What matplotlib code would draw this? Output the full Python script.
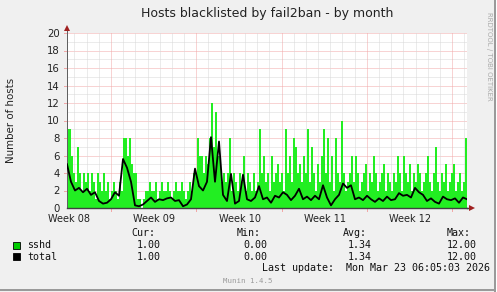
import numpy as np
import matplotlib
matplotlib.use("Agg")
import matplotlib.pyplot as plt
from matplotlib.patches import Rectangle

# ---------------- data ----------------
title = "Hosts blacklisted by fail2ban - by month"
ylabel = "Number of hosts"
week_labels = ["Week 08", "Week 09", "Week 10", "Week 11", "Week 12"]
y_ticks = [0, 2, 4, 6, 8, 10, 12, 14, 16, 18, 20]

# sshd (green area), one value per ~4 hours across the month window
sshd = [9, 9, 6, 4, 3, 7, 4, 2, 4, 3,
        4, 2, 4, 3, 1, 4, 3, 2, 4, 2,
        3, 1, 2, 3, 2, 1, 3, 2,
        8, 8, 6, 8, 5, 4,
        4, 1, 1, 0, 1, 2,
        2, 3, 2, 2, 3, 1, 2, 3, 2, 2,
        3, 2, 1, 2, 3, 2, 2, 3, 2, 1,
        2, 3, 2, 4, 4, 8, 6,
        6, 4, 6, 5, 8, 12, 7, 11, 6, 6,
        3, 4, 3, 4, 8, 2, 4, 3, 2, 4,
        3, 6, 2, 4, 3, 2, 4, 2, 3, 9,
        4, 6, 3, 4, 2, 6, 3, 4, 5, 3,
        4, 2, 9, 4, 6, 3, 8, 7, 4, 5,
        3, 6, 4, 9, 3, 7, 4, 2, 5, 3,
        6, 9, 4, 8, 3, 6, 2, 8, 4, 3,
        10, 4, 2, 3, 4, 6, 3, 6, 4, 2,
        3, 4, 5, 2, 4, 3, 6, 4, 2, 3,
        4, 5, 2, 4, 3, 2, 4, 3, 6, 4,
        2, 6, 4, 3, 5, 2, 4, 3, 5, 4,
        2, 3, 4, 6, 3, 2, 4, 7, 3, 2,
        4, 3, 5, 2, 3, 4, 5, 2, 3, 4, 2, 3, 8]

# total (black line), one value per ~8 hours
total = [5.0, 3.0, 2.0, 2.3, 1.8, 2.2, 1.5, 1.8, 0.8, 0.5,
         0.6, 1.0, 1.8, 1.4, 5.6, 4.6, 3.0, 0.3, 0.2, 0.4,
         0.8, 1.2, 0.7, 1.0, 0.9, 1.1, 1.2, 0.8, 0.9, 0.2,
         0.4, 1.0, 4.5, 2.5, 2.0, 3.0, 8.1, 3.0, 7.6, 1.5,
         0.8, 3.9, 0.5, 0.8, 3.8, 1.0, 0.8, 1.2, 2.5, 1.0,
         1.2, 0.6, 1.4, 1.2, 1.8, 1.5, 0.9, 1.4, 2.2, 1.0,
         1.3, 0.9, 1.4, 1.0, 2.6, 1.2, 0.3, 1.0, 1.5, 2.8,
         2.3, 2.6, 1.0, 1.2, 0.9, 1.4, 1.0, 0.7, 1.1, 0.8,
         1.3, 0.9, 1.0, 1.7, 1.4, 1.5, 1.2, 2.3, 1.8, 1.5,
         0.8, 1.1, 0.7, 0.5, 1.3, 1.0, 0.9, 1.1, 0.6, 1.2, 1.0]

legend_names = ["sshd", "total"]
stat_headers = ["Cur:", "Min:", "Avg:", "Max:"]
stats_sshd = ["1.00", "0.00", "1.34", "12.00"]
stats_total = ["1.00", "0.00", "1.34", "12.00"]
last_update = "Last update:  Mon Mar 23 06:05:03 2026"
footer = "Munin 1.4.5"
side_text = "RRDTOOL / TOBI OETIKER"

# ---------------- layout ----------------
W, H = 497, 292
PX_PER_DAY = 12.18
SPAN = 400 / PX_PER_DAY            # days shown on x axis
LABEL0 = 2 / PX_PER_DAY            # first week label position (days)
MAJOR0 = 44 / PX_PER_DAY           # first major grid line (days)

GREEN = "#22EE22"
LEG_GREEN = "#00CC00"
BG = "#F0F0F0"

fig = plt.figure(figsize=(W / 100, H / 100), dpi=100, facecolor=BG)

def fx(x):
    return x / W

def fy(y):
    return 1 - y / H

ax = fig.add_axes([fx(67), 1 - 208 / H, 400 / W, 175 / H])
ax.set_facecolor("white")
ax.set_xlim(0, SPAN)
ax.set_ylim(0, 20)

# grid
px = 0.72
for v in range(1, 20):
    if v % 2 == 1:
        ax.axhline(v, color="#D8D8D8", lw=px, ls=(0, (1, 1)), zorder=1)
for v in range(2, 21, 2):
    ax.axhline(v, color="#F2A8A8", lw=px, ls=(0, (1, 1)), zorder=1)
    ax.plot([-3 / PX_PER_DAY, 0], [v, v], color="#F2A8A8", lw=px, clip_on=False, zorder=1)
d = MAJOR0 - 3
while d < SPAN:
    k = round(d - MAJOR0)
    if d > 0:
        if k % 7 == 0:
            ax.axvline(d, color="#F2A8A8", lw=px, ls=(0, (1, 1)), zorder=1)
            ax.plot([d, d], [0, -0.35], color="#F2A8A8", lw=px, clip_on=False, zorder=1)
        else:
            ax.axvline(d, color="#D8D8D8", lw=px, ls=(0, (1, 1)), zorder=1)
    d += 1

# series
edges = np.linspace(0, SPAN, len(sshd) + 1)
ax.stairs(sshd, edges, fill=True, color=GREEN, zorder=2, lw=0)
t_total = np.linspace(0, SPAN, len(total))
ax.plot(t_total, total, color="black", lw=1.3, zorder=3)

# axes
for s in ["top", "right"]:
    ax.spines[s].set_visible(False)
ax.spines["left"].set_color("#606060")
ax.spines["bottom"].set_color("#404040")
ax.spines["left"].set_linewidth(px)
ax.spines["bottom"].set_linewidth(1.0)
ax.plot([SPAN, SPAN + 4 / PX_PER_DAY], [0, 0], color="#404040", lw=1.0, clip_on=False, zorder=4)
ax.plot([0, 0], [20, 20.5], color="#606060", lw=px, clip_on=False, zorder=4)
ax.plot([SPAN + 5 / PX_PER_DAY], [0], marker=">", ms=4, color="#A02020", mew=0, clip_on=False, zorder=5)
ax.plot([0], [20.6], marker="^", ms=4, color="#A02020", mew=0, clip_on=False, zorder=5)

ax.set_yticks(y_ticks)
ax.set_yticklabels([str(v) for v in y_ticks], fontsize=7.3, color="#222222")
ax.tick_params(axis="y", length=0, pad=5)
ax.set_xticks([LABEL0 + 7 * k for k in range(len(week_labels))])
ax.set_xticklabels(week_labels, fontsize=7, color="#222222")
ax.tick_params(axis="x", length=0, pad=4.5)

# texts
fig.text(fx(267), fy(14), title, ha="center", va="center", fontsize=9, color="#222222")
fig.text(fx(11), fy(120), ylabel, ha="center", va="center", rotation=90, fontsize=7.4, color="#222222")
fig.text(fx(489), fy(56), side_text, ha="center", va="center", rotation=270, fontsize=5, color="#AAAAAA")

mono = dict(family="DejaVu Sans Mono", fontsize=7.2, color="#111111", va="center", ha="left")
hdr_x = [131, 237, 343, 447]
val_x = [137, 243, 348, 447]
for hx, h in zip(hdr_x, stat_headers):
    fig.text(fx(hx), fy(233), h, **mono)
for row_y, name, vals, col in [(245, legend_names[0], stats_sshd, LEG_GREEN),
                               (256.5, legend_names[1], stats_total, "black")]:
    fig.patches.append(Rectangle((fx(13), fy(row_y + 3.5)), 7 / W, 7 / H,
                                 transform=fig.transFigure, facecolor=col,
                                 edgecolor="black", lw=0.6))
    fig.text(fx(27), fy(row_y), name, **mono)
    for vx, v in zip(val_x, vals):
        fig.text(fx(vx), fy(row_y), v, **mono)
fig.text(fx(262), fy(268), last_update, **mono)
fig.text(fx(248), fy(281), footer, ha="center", va="center",
         family="DejaVu Sans Mono", fontsize=5.3, color="#9A9A9A")

# image border
fig.patches.append(Rectangle((fx(494), 0), 2 / W, 1, transform=fig.transFigure,
                             facecolor="#9A9A9A", lw=0))
fig.patches.append(Rectangle((0, 1 - 291 / H), 496 / W, 2 / H, transform=fig.transFigure,
                             facecolor="#9A9A9A", lw=0))
fig.patches.append(Rectangle((fx(496), 0), 1 / W, 1, transform=fig.transFigure,
                             facecolor="white", lw=0))

fig.savefig("out.png", dpi=100, facecolor=BG)
